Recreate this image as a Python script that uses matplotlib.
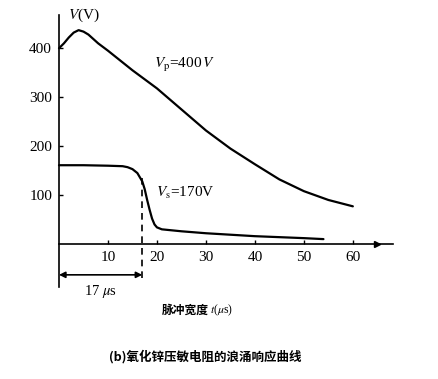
import matplotlib
matplotlib.use("Agg")
import matplotlib.pyplot as plt

plt.rcParams['mathtext.fontset'] = 'stix'
plt.rcParams['font.family'] = ['Liberation Serif', 'Noto Sans CJK SC', 'DejaVu Sans']

# Data
vp_t = [0, 1, 2, 3, 4, 5, 6, 8, 10, 15, 20, 25, 30, 35, 40, 45, 50, 55, 60]
vp_v = [400, 410, 422, 432, 437, 434, 428, 410, 395, 355, 318, 275, 232, 195, 163, 132, 108, 90, 77]

vs_t = [0, 5, 10, 13, 14, 15, 16, 17, 17.5, 18, 18.5, 19, 19.5, 20, 21, 25, 30, 35, 40, 45, 50, 54]
vs_v = [161, 161, 160, 159, 157, 153, 145, 128, 112, 90, 70, 52, 40, 34, 30, 26, 22, 19, 16, 14, 12, 10]

x_ticks = [10, 20, 30, 40, 50, 60]
y_ticks = [100, 200, 300, 400]
t_mark = 17

fig = plt.figure(figsize=(4.38, 3.79), dpi=100)
W, H = 438, 379
ax = fig.add_axes([59 / W, 1 - 290.5 / H, (393 - 59) / W, (290.5 - 14) / H])
ax.set_xlim(0, 68.2)
ax.set_ylim(-95, 470)

for s in ['top', 'right']:
    ax.spines[s].set_visible(False)
ax.spines['bottom'].set_position(('data', 0))
ax.spines['left'].set_position(('data', 0))
ax.spines['bottom'].set_bounds(0, 68.2)
ax.spines['left'].set_bounds(-88, 467)
ax.spines['bottom'].set_linewidth(1.2)
ax.spines['left'].set_linewidth(1.2)

ax.set_xticks(x_ticks)
ax.set_yticks(y_ticks)
ax.set_xticklabels([str(v) for v in x_ticks])
ax.set_yticklabels([str(v) for v in y_ticks])
ax.tick_params(axis='both', direction='in', length=3, width=1.0, labelsize=11, pad=5)

# arrow head on x axis
ax.plot([65], [0], marker='>', color='black', markersize=4, clip_on=False)

# curves
ax.plot(vp_t, vp_v, color='black', lw=1.6, solid_capstyle='round', clip_on=False)
ax.plot(vs_t, vs_v, color='black', lw=1.6, solid_capstyle='round', clip_on=False)

# dashed marker line at 17 us
ax.plot([t_mark, t_mark], [-69, 134], color='black', lw=1.2, ls=(0, (4, 3)), clip_on=False)

# 17 us bracket
ax.annotate('', xy=(0, -63), xytext=(t_mark, -63),
            arrowprops=dict(arrowstyle='<|-|>', color='black', lw=1.2,
                            mutation_scale=9, shrinkA=0, shrinkB=0),
            annotation_clip=False)
ax.text(t_mark / 2, -80, r'17 $\mu$s', ha='center', va='top', fontsize=10.5)

# labels
ax.text(1.8, 467, r'$V$(V)', ha='left', va='center', fontsize=11)
ax.text(19.3, 365, r'$V_{\mathrm{p}}$=400$\,V$', ha='left', va='center', fontsize=11)
ax.text(19.8, 104, r'$V_{\mathrm{s}}$=170V', ha='left', va='center', fontsize=11)

fig.text(162 / W, 1 - 310 / H, '脉冲宽度', family=['Noto Sans CJK SC'], fontweight='bold',
         fontsize=8.5, ha='left', va='center')
fig.text(210 / W, 1 - 310 / H, r'$t$($\mu$s)', fontsize=8.5, ha='left', va='center')
fig.text(205 / W, 1 - 357 / H, '(b)氧化锌压敏电阻的浪涌响应曲线',
         family=['Noto Sans CJK SC', 'DejaVu Sans'], fontweight='bold',
         fontsize=9, ha='center', va='center')

fig.savefig('out.png', dpi=100)
